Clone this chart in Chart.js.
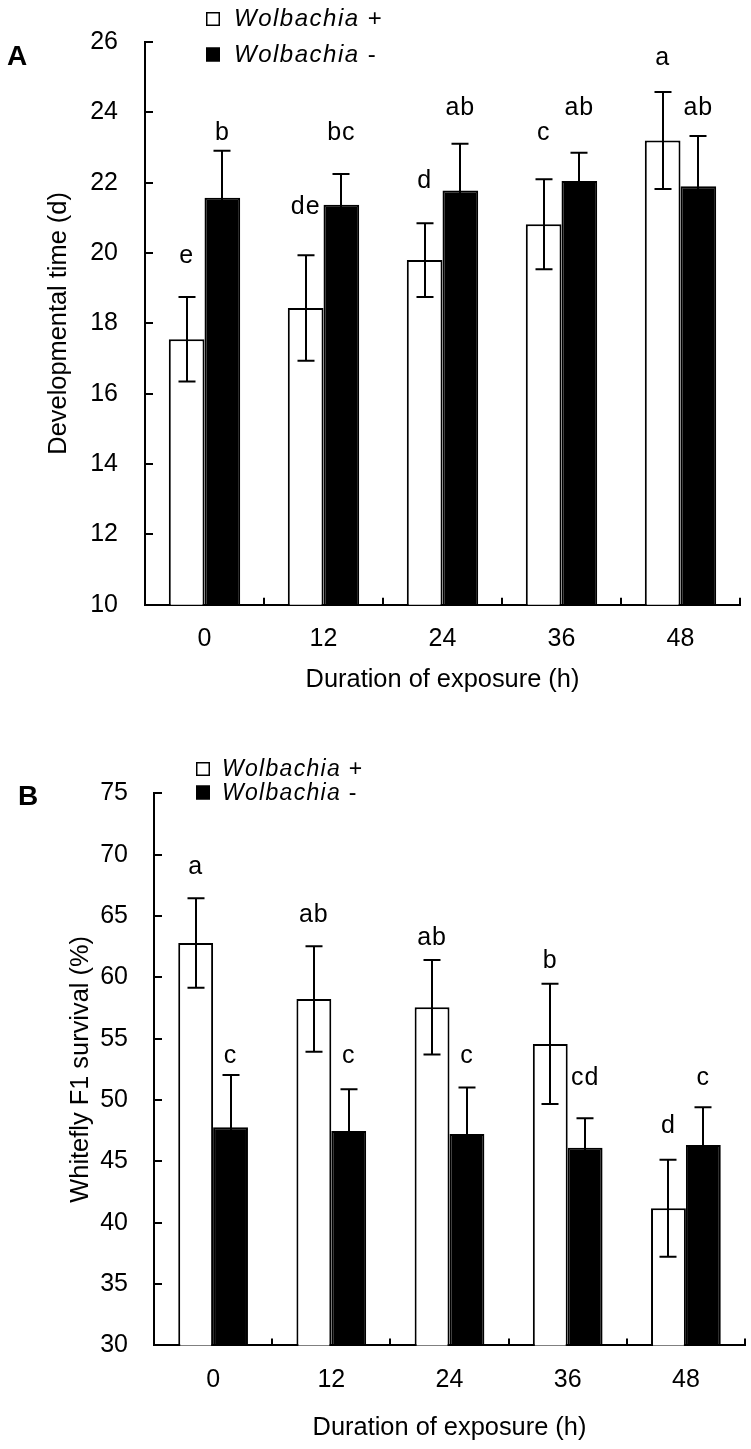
<!DOCTYPE html>
<html><head><meta charset="utf-8">
<script src="https://cdn.jsdelivr.net/npm/chart.js@4.4.1/dist/chart.umd.min.js"></script>
<style>
html,body{margin:0;padding:0;background:#fff;}
#wrap{position:relative;width:751px;height:1449px;background:#fff;}
canvas{position:absolute;left:0;}
</style></head><body>
<div id="wrap">
<canvas id="chartA" width="751" height="710" style="top:0px"></canvas>
<canvas id="chartB" width="751" height="739" style="top:710px"></canvas>
</div>
<script>
// ---------- data ----------
const categories = ['0', '12', '24', '36', '48'];
const seriesNames = ['Wolbachia +', 'Wolbachia -'];

// Panel A: developmental time (d)
const devTimePlus  = [17.55, 18.44, 19.80, 20.82, 23.20];
const devTimePlusErr  = [1.20, 1.50, 1.05, 1.28, 1.38];
const devTimeMinus = [21.57, 21.37, 21.78, 22.05, 21.90];
const devTimeMinusErr = [1.34, 0.88, 1.33, 0.80, 1.43];
const devLettersPlus  = ['e', 'de', 'd', 'c', 'a'];
const devLettersMinus = ['b', 'bc', 'ab', 'ab', 'ab'];
const devLetterYPlus  = [19.71, 21.12, 21.85, 23.22, 25.36];
const devLetterYMinus = [23.22, 23.22, 23.93, 23.93, 23.93];
const devTicks = {min: 10, max: 26, step: 2};

// Panel B: whitefly F1 survival (%)
const survPlus  = [62.80, 58.24, 57.56, 54.57, 41.18];
const survPlusErr  = [3.65, 4.30, 3.85, 4.90, 3.95];
const survMinus = [47.78, 47.48, 47.23, 46.12, 46.34];
const survMinusErr = [4.26, 3.39, 3.80, 2.39, 3.07];
const survLettersPlus  = ['a', 'ab', 'ab', 'b', 'd'];
const survLettersMinus = ['c', 'c', 'c', 'cd', 'c'];
const survLetterYPlus  = [68.42, 64.54, 62.64, 60.74, 47.34];
const survLetterYMinus = [53.00, 53.04, 53.04, 51.23, 51.23];
const survTicks = {min: 30, max: 75, step: 5};

// ---------- rendering ----------
const FONT = "'Liberation Sans', Arial, Helvetica, sans-serif";
Chart.defaults.font.family = FONT;
Chart.defaults.color = '#000';

const annotPlugin = {
  id: 'annot',
  afterDatasetsDraw(chart, args, o) {
    const ctx = chart.ctx;
    const y = chart.scales.y, x = chart.scales.x;
    const area = chart.chartArea;
    ctx.save();
    ctx.strokeStyle = '#000';
    ctx.lineWidth = 2;
    // error bars
    o.errors.forEach((errs, d) => {
      const meta = chart.getDatasetMeta(d);
      const vals = chart.data.datasets[d].data;
      meta.data.forEach((el, i) => {
        const yt = y.getPixelForValue(vals[i] + errs[i]);
        const yb = y.getPixelForValue(vals[i] - errs[i]);
        const cx = Math.round(el.x);
        ctx.beginPath();
        ctx.moveTo(cx, yt); ctx.lineTo(cx, yb);
        ctx.moveTo(cx - o.cap, yt); ctx.lineTo(cx + o.cap, yt);
        ctx.moveTo(cx - o.cap, yb); ctx.lineTo(cx + o.cap, yb);
        ctx.stroke();
      });
    });
    // inward y ticks
    y.ticks.forEach(t => {
      const py = Math.round(y.getPixelForValue(t.value));
      ctx.beginPath();
      ctx.moveTo(area.left, py); ctx.lineTo(area.left + 8, py);
      ctx.stroke();
    });
    // x ticks at category boundaries
    for (let i = 0; i <= categories.length; i++) {
      const px = Math.round(x.getPixelForValue(i - 0.5));
      ctx.beginPath();
      ctx.moveTo(px, area.bottom); ctx.lineTo(px, area.bottom - 7);
      ctx.stroke();
    }
    // significance letters
    ctx.fillStyle = '#000';
    ctx.font = '25px ' + FONT;
    ctx.letterSpacing = '1px';
    ctx.textAlign = 'center';
    ctx.textBaseline = 'alphabetic';
    o.letters.forEach((lets, d) => {
      const meta = chart.getDatasetMeta(d);
      meta.data.forEach((el, i) => {
        ctx.fillText(lets[i], el.x, y.getPixelForValue(o.letterY[d][i]));
      });
    });
    // panel label
    ctx.letterSpacing = '0px';
    ctx.textAlign = 'left';
    ctx.font = 'bold 28px ' + FONT;
    ctx.fillText(o.panel, o.panelX, o.panelY);
    // legend
    const L = o.legend;
    ctx.letterSpacing = L.spacing + 'px';
    seriesNames.forEach((name, d) => {
      const ds = chart.data.datasets[d];
      const base = L.y + d * L.rowH;
      ctx.fillStyle = ds.backgroundColor;
      ctx.fillRect(L.x, base - L.box, L.box, L.box);
      ctx.lineWidth = 1.5;
      ctx.strokeStyle = '#000';
      ctx.strokeRect(L.x + 0.75, base - L.box + 0.75, L.box - 1.5, L.box - 1.5);
      ctx.fillStyle = '#000';
      const parts = name.split(' ');
      ctx.font = 'italic ' + L.size + 'px ' + FONT;
      ctx.fillText(parts[0], L.tx, base);
      const w = ctx.measureText(parts[0]).width;
      ctx.font = L.size + 'px ' + FONT;
      ctx.fillText(' ' + parts[1], L.tx + w, base);
    });
    ctx.restore();
  }
};

function buildConfig(p) {
  return {
    type: 'bar',
    data: {
      labels: categories,
      datasets: [
        {label: seriesNames[0], data: p.plus, backgroundColor: '#ffffff', borderColor: '#000000', borderWidth: 2, borderSkipped: 'bottom'},
        {label: seriesNames[1], data: p.minus, backgroundColor: '#000000', borderColor: '#000000', borderWidth: 2, borderSkipped: 'bottom'}
      ]
    },
    options: {
      responsive: false,
      animation: false,
      events: [],
      datasets: {bar: {categoryPercentage: p.catPct, barPercentage: 1}},
      layout: {padding: {left: 0, right: p.padRight, top: p.padTop, bottom: 0}},
      plugins: {
        legend: {display: false},
        tooltip: {enabled: false},
        title: {display: false},
        annot: {
          errors: [p.plusErr, p.minusErr],
          letters: [p.lettersPlus, p.lettersMinus],
          letterY: [p.letterYPlus, p.letterYMinus],
          cap: 8.5,
          panel: p.panel, panelX: p.panelX, panelY: p.panelY,
          legend: p.legend
        }
      },
      scales: {
        x: {
          type: 'category',
          offset: true,
          grid: {display: false, drawTicks: false},
          border: {display: true, color: '#000', width: 2},
          ticks: {color: '#000', font: {size: 25}, padding: p.xTickPad, maxRotation: 0, autoSkip: false},
          title: {display: true, text: 'Duration of exposure (h)', color: '#000', font: {size: 25.4}, padding: {top: 0, bottom: p.xTitlePad}},
          afterFit: s => { s.height = p.xAxisH; }
        },
        y: {
          min: p.ticks.min, max: p.ticks.max,
          grid: {display: false, drawTicks: false},
          border: {display: true, color: '#000', width: 2},
          ticks: {stepSize: p.ticks.step, color: '#000', font: {size: 25}, padding: p.yTickPad},
          title: {display: true, text: p.yTitle, color: '#000', font: {size: 25.4}, padding: {top: p.yTitlePad, bottom: 0}},
          afterFit: s => { s.width = p.yAxisW; }
        }
      }
    },
    plugins: [annotPlugin]
  };
}

new Chart(document.getElementById('chartA'), buildConfig({
  plus: devTimePlus, minus: devTimeMinus, plusErr: devTimePlusErr, minusErr: devTimeMinusErr,
  lettersPlus: devLettersPlus, lettersMinus: devLettersMinus,
  letterYPlus: devLetterYPlus, letterYMinus: devLetterYMinus,
  ticks: devTicks, yTitle: 'Developmental time (d)',
  catPct: 0.6, padRight: 11, padTop: 38.6, xAxisH: 105.2, yAxisW: 145,
  xTickPad: 19.2, xTitlePad: 14.8, yTickPad: 27, yTitlePad: 43.8,
  panel: 'A', panelX: 7, panelY: 65,
  legend: {x: 206, tx: 234, y: 26, rowH: 35.5, box: 14, size: 24, spacing: 1.5}
}));

new Chart(document.getElementById('chartB'), buildConfig({
  plus: survPlus, minus: survMinus, plusErr: survPlusErr, minusErr: survMinusErr,
  lettersPlus: survLettersPlus, lettersMinus: survLettersMinus,
  letterYPlus: survLetterYPlus, letterYMinus: survLetterYMinus,
  ticks: survTicks, yTitle: 'Whitefly F1 survival (%)',
  catPct: 0.59, padRight: 6, padTop: 83.3, xAxisH: 103.6, yAxisW: 154,
  xTickPad: 20.1, xTitlePad: 5.8, yTickPad: 26, yTitlePad: 66,
  panel: 'B', panelX: 18, panelY: 95,
  legend: {x: 196, tx: 222, y: 66, rowH: 23.5, box: 14, size: 23, spacing: 1.3}
}));
</script>
</body></html>
